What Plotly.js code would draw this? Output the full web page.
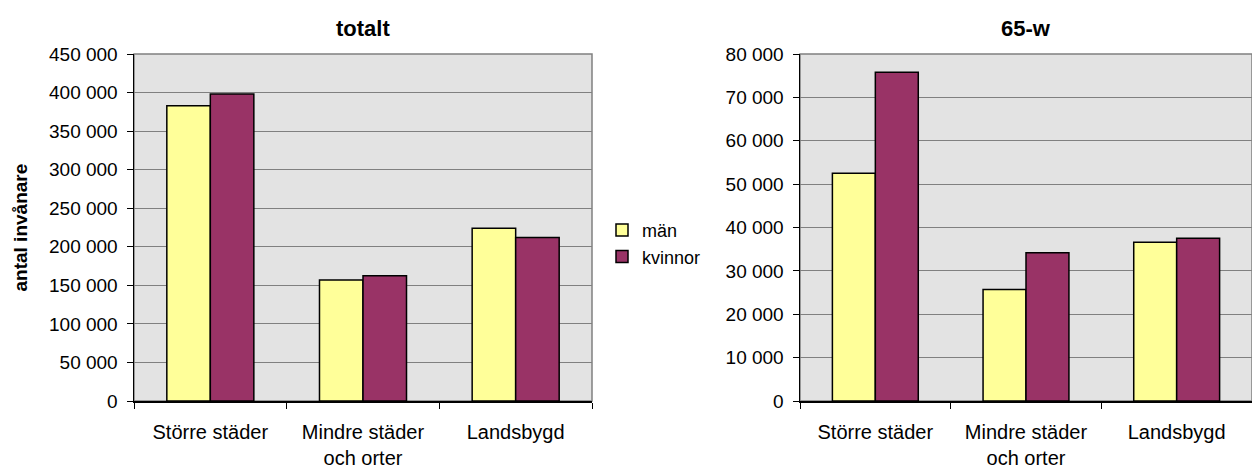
<!DOCTYPE html>
<html>
<head>
<meta charset="utf-8">
<script src="https://cdn.plot.ly/plotly-3.0.1.min.js"></script>
<style>
html,body{margin:0;padding:0;background:#fff;}
#chart{width:1252px;height:472px;}
</style>
</head>
<body>
<div id="chart"></div>
<script>
const categories = ["Större städer", "Mindre städer<br>och orter", "Landsbygd"];
const seriesNames = ["män", "kvinnor"];
const totaltMan = [383000, 157000, 224000];
const totaltKvinnor = [398000, 162500, 212000];
const aldreMan = [52500, 25700, 36600];
const aldreKvinnor = [75800, 34200, 37500];
const colors = ["#FFFF99", "#993366"];

const FONT = "Liberation Sans, Arial, sans-serif";
const barLine = {color: "#000000", width: 1.5};

const traces = [
  {type: "bar", name: seriesNames[0], x: categories, y: totaltMan, xaxis: "x", yaxis: "y",
   marker: {color: colors[0], line: barLine}, legendgroup: "m", showlegend: true},
  {type: "bar", name: seriesNames[1], x: categories, y: totaltKvinnor, xaxis: "x", yaxis: "y",
   marker: {color: colors[1], line: barLine}, legendgroup: "k", showlegend: true},
  {type: "bar", name: seriesNames[0], x: categories, y: aldreMan, xaxis: "x2", yaxis: "y2",
   marker: {color: colors[0], line: barLine}, legendgroup: "m", showlegend: false},
  {type: "bar", name: seriesNames[1], x: categories, y: aldreKvinnor, xaxis: "x2", yaxis: "y2",
   marker: {color: colors[1], line: barLine}, legendgroup: "k", showlegend: false}
];

const xCommon = {
  type: "category", showgrid: false, tickson: "boundaries", ticks: "outside", ticklen: 6,
  tickcolor: "#000", showline: true, linecolor: "#000", linewidth: 1.5,
  tickfont: {family: FONT, size: 20, color: "#000"}, ticklabelstandoff: 12, fixedrange: true
};
const yCommon = {
  showgrid: true, gridcolor: "#808080", gridwidth: 1, ticks: "outside", ticklen: 6,
  tickcolor: "#000", showline: true, linecolor: "#000", linewidth: 1.5,
  tickfont: {family: FONT, size: 19, color: "#000"}, tickformat: ",d", zeroline: false,
  ticklabelstandoff: 5, fixedrange: true
};

const layout = {
  width: 1252, height: 472,
  margin: {l: 0, r: 0, t: 54, b: 71},
  paper_bgcolor: "#ffffff",
  plot_bgcolor: "#E3E3E3",
  separators: ", ",
  barmode: "group",
  bargap: 0.43,
  bargroupgap: 0,
  showlegend: true,
  legend: {x: 602/1252, y: 0.545, xanchor: "left", yanchor: "top",
           font: {family: FONT, size: 18, color: "#000"}, bgcolor: "rgba(0,0,0,0)",
           itemwidth: 30, tracegroupgap: 0},
  xaxis: Object.assign({}, xCommon, {domain: [134/1252, 592/1252], anchor: "y"}),
  yaxis: Object.assign({}, yCommon, {range: [0, 450000], dtick: 50000, anchor: "x"}),
  xaxis2: Object.assign({}, xCommon, {domain: [800/1252, 1], anchor: "y2"}),
  yaxis2: Object.assign({}, yCommon, {range: [0, 80000], dtick: 10000, anchor: "x2"}),
  shapes: [
    {type: "rect", xref: "x domain", yref: "y domain", x0: 0, x1: 1, y0: 0, y1: 1,
     line: {color: "#808080", width: 1.5}, layer: "below"},
    {type: "rect", xref: "x2 domain", yref: "y2 domain", x0: 0, x1: 1, y0: 0, y1: 1,
     line: {color: "#808080", width: 1.5}, layer: "below"}
  ],
  annotations: [
    {text: "<b>totalt</b>", xref: "paper", yref: "paper", x: 363/1252, y: (401-28)/347,
     xanchor: "center", yanchor: "middle", showarrow: false,
     font: {family: FONT, size: 22, color: "#000"}},
    {text: "<b>65-w</b>", xref: "paper", yref: "paper", x: 1026/1252, y: (401-28)/347,
     xanchor: "center", yanchor: "middle", showarrow: false,
     font: {family: FONT, size: 22, color: "#000"}},
    {text: "<b>antal invånare</b>", xref: "paper", yref: "paper", x: 20/1252, y: 0.5,
     xanchor: "center", yanchor: "middle", showarrow: false, textangle: -90,
     font: {family: FONT, size: 19, color: "#000"}}
  ]
};

Plotly.newPlot("chart", traces, layout, {displayModeBar: false, staticPlot: true});
</script>
</body>
</html>
